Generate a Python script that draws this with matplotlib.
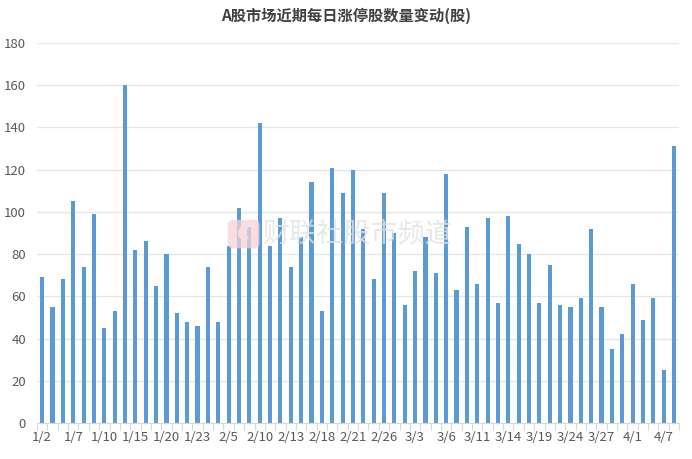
import numpy as np
import matplotlib.pyplot as plt
from matplotlib.patches import FancyBboxPatch

plt.rcParams['font.family'] = ['Noto Sans CJK SC', 'DejaVu Sans']

# trading days, Jan 2 - Apr 8
dates = ['1/2', '1/3', '1/6', '1/7', '1/8', '1/9', '1/10', '1/13', '1/14', '1/15',
         '1/16', '1/17', '1/20', '1/21', '1/22', '1/23', '1/24', '1/27', '2/5', '2/6',
         '2/7', '2/10', '2/11', '2/12', '2/13', '2/14', '2/17', '2/18', '2/19', '2/20',
         '2/21', '2/24', '2/25', '2/26', '2/27', '2/28', '3/3', '3/4', '3/5', '3/6',
         '3/7', '3/10', '3/11', '3/12', '3/13', '3/14', '3/17', '3/18', '3/19', '3/20',
         '3/21', '3/24', '3/25', '3/26', '3/27', '3/28', '3/31', '4/1', '4/2', '4/3',
         '4/7', '4/8']
limit_up = [69, 55, 68, 105, 74, 99, 45, 53, 160, 82,
            86, 65, 80, 52, 48, 46, 74, 48, 84, 102,
            93, 142, 84, 97, 74, 88, 114, 53, 121, 109,
            120, 92, 68, 109, 90, 56, 72, 88, 71, 118,
            63, 93, 66, 97, 57, 98, 85, 80, 57, 75,
            56, 55, 59, 92, 55, 35, 42, 66, 49, 59,
            25, 131]
y_ticks = [0, 20, 40, 60, 80, 100, 120, 140, 160, 180]

fig = plt.figure(figsize=(6.92, 4.59), dpi=100)
ax = fig.add_axes([0.0535, 0.0784, 0.928, 0.828])

x = np.arange(len(dates))
ax.bar(x, limit_up, width=0.4, color='#5B9BD5', zorder=3)

ax.set_xlim(-0.5, len(dates) - 0.5)
ax.set_ylim(0, 180)
ax.set_yticks(y_ticks)
ax.grid(axis='y', color='#E6E6E6', linewidth=0.9, zorder=0)

# labels every 3rd day, tick marks between categories
ax.set_xticks(x[::3])
ax.set_xticklabels(dates[::3])
ax.set_xticks(np.arange(-0.5, len(dates), 1), minor=True)
ax.tick_params(axis='x', which='major', length=0, pad=6, labelsize=9.5, labelcolor='#595959')
ax.tick_params(axis='x', which='minor', length=5, color='#D9D9D9', width=0.8)
ax.tick_params(axis='y', length=0, pad=8, labelsize=9.5, labelcolor='#595959')

for s in ['top', 'right', 'left']:
    ax.spines[s].set_visible(False)
ax.spines['bottom'].set_color('#D9D9D9')
ax.spines['bottom'].set_zorder(4)

fig.text(0.5, 0.965, 'A股市场近期每日涨停股数量变动(股)', ha='center', va='center',
         fontsize=11, fontweight='bold', color='#404040')

# watermark
logo = FancyBboxPatch((0.332, 0.462), 0.040, 0.056, boxstyle='round,pad=0.003,rounding_size=0.01',
                      transform=fig.transFigure, facecolor='#F7D3D7', edgecolor='none',
                      alpha=0.75, zorder=5)
fig.patches.append(logo)
fig.text(0.352, 0.490, 'C', ha='center', va='center', fontsize=14, fontweight='bold',
         color='white', alpha=0.9)
fig.text(0.378, 0.490, '财联社股市频道', ha='left', va='center', fontsize=19.5,
         color='#E2E2E2', alpha=0.8)

fig.savefig('out.png', dpi=100)
